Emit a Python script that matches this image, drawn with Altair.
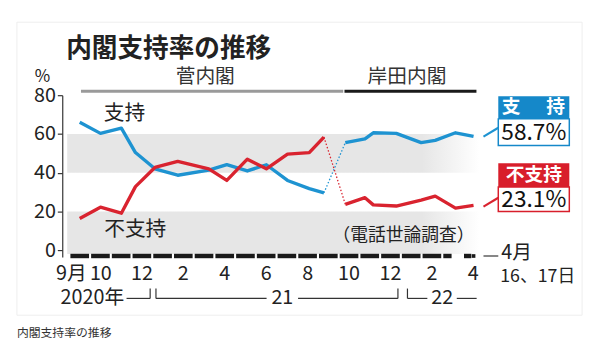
import altair as alt
import pandas as pd

# ---------------- data ----------------
# x = months since Sep 2020 (0 = Sep 2020, 19 = Apr 2022)
suga_m = [0, 1.0, 2.01, 2.69, 3.63, 4.73, 6.23, 7.1, 8.09, 9.01, 10.03, 11.08, 11.79]
suga_support = [66.0, 60.3, 63.0, 50.4, 42.0, 38.7, 41.3, 44.2, 40.9, 44.1, 36.0, 31.8, 29.6]
suga_oppose = [16.4, 22.2, 19.1, 32.8, 42.7, 45.8, 42.0, 36.0, 47.0, 42.0, 49.6, 50.4, 58.4]

kishida_m = [12.82, 13.77, 14.17, 15.28, 16.48, 17.16, 18.14, 19.01]
kishida_support = [55.5, 57.5, 60.6, 60.3, 55.5, 56.7, 60.6, 58.7]
kishida_oppose = [23.7, 27.1, 23.4, 22.8, 25.9, 27.9, 21.7, 23.1]

y_ticks = [0, 20, 40, 60, 80]
band_lo = [40, -2]
band_hi = [60, 20]

month_index = list(range(0, 18))
month_label_m = [-0.4, 1.02, 3, 5, 7, 9, 11, 13, 15, 17, 19]
month_labels = ["9月", "10", "12", "2", "4", "6", "8", "10", "12", "2", "4"]
year_label_m = [0.61, 9.78, 17.5]
year_labels = ["2020年", "21", "22"]

era_names = ["菅内閣", "岸田内閣"]
era_start = [0.06, 12.78]
era_end = [12.72, 19.15]
era_label_m = [6.06, 15.8]
era_colors = ["#9a9a9a", "#1a1a1a"]

BLUE = "#1e93d1"
RED = "#d9232f"
BLUE_BOX = "#1588c9"
RED_BOX = "#d81e2b"
FONT = "Noto Sans CJK JP"
INK = "#222222"

W, H = 422, 164
X = alt.Scale(domain=[-0.605, 19.49], nice=False, zero=False)
Y = alt.Scale(domain=[-3.5, 80], nice=False, zero=False)
Y_AXIS = alt.Axis(values=y_ticks, offset=5, tickSize=5, tickColor="#333",
                  domainColor="#333", domainWidth=1.2, tickWidth=1.2,
                  labelFont=FONT, labelFontSize=20, labelColor=INK,
                  labelPadding=2, grid=False, title=None)

# ---------------- tables ----------------
rows = []
for era, ms, sup, opp in [("suga", suga_m, suga_support, suga_oppose),
                          ("kishida", kishida_m, kishida_support, kishida_oppose)]:
    for m, s, o in zip(ms, sup, opp):
        rows.append({"m": m, "v": s, "series": "支持", "era": era})
        rows.append({"m": m, "v": o, "series": "不支持", "era": era})
lines_df = pd.DataFrame(rows)

gap_df = pd.DataFrame([
    {"m": suga_m[-1], "v": suga_support[-1], "series": "支持"},
    {"m": kishida_m[0], "v": kishida_support[0], "series": "支持"},
    {"m": suga_m[-1], "v": suga_oppose[-1], "series": "不支持"},
    {"m": kishida_m[0], "v": kishida_oppose[0], "series": "不支持"},
])

color = alt.Color("series:N", scale=alt.Scale(domain=["支持", "不支持"], range=[BLUE, RED]), legend=None)

bands = alt.Chart(pd.DataFrame({"lo": band_lo, "hi": band_hi})).mark_rect(
    color=alt.Gradient(gradient="linear",
                       stops=[alt.GradientStop(color="#e6e6e6", offset=0),
                              alt.GradientStop(color="#e6e6e6", offset=0.86),
                              alt.GradientStop(color="#ffffff", offset=1)],
                       x1=0, x2=1, y1=0, y2=0)
).encode(
    x=alt.value(0), x2=alt.value(418),
    y=alt.Y("lo:Q", scale=Y, axis=Y_AXIS),
    y2="hi:Q",
)

lines = alt.Chart(lines_df).mark_line(strokeWidth=3.4, strokeJoin="round").encode(
    x=alt.X("m:Q", scale=X, axis=None),
    y=alt.Y("v:Q", scale=Y, axis=Y_AXIS),
    color=color,
    detail="era:N",
)

gaps = alt.Chart(gap_df).mark_line(strokeWidth=1.3, strokeDash=[1.5, 2]).encode(
    x=alt.X("m:Q", scale=X, axis=None),
    y=alt.Y("v:Q", scale=Y, axis=Y_AXIS),
    color=color,
)

# month dashes along the bottom
dash_df = pd.DataFrame({"a": [k - 0.45 for k in month_index] + [17.55, 18.55],
                        "b": [k + 0.45 for k in month_index] + [17.95, 18.9]})
dashes = alt.Chart(dash_df).mark_rule(strokeWidth=4.5, color="#1a1a1a").encode(
    x=alt.X("a:Q", scale=X, axis=None), x2="b:Q", y=alt.value(163))
end_dot = alt.Chart(pd.DataFrame({"m": [kishida_m[-1]]})).mark_square(size=14, color="#1a1a1a", opacity=1).encode(
    x=alt.X("m:Q", scale=X, axis=None), y=alt.value(163))

month_text = alt.Chart(pd.DataFrame({"m": month_label_m, "t": month_labels})).mark_text(
    font=FONT, fontSize=20, color=INK, baseline="middle").encode(
    x=alt.X("m:Q", scale=X, axis=None), y=alt.value(181), text="t:N")
year_text = alt.Chart(pd.DataFrame({"m": year_label_m, "t": year_labels})).mark_text(
    font=FONT, fontSize=20, color=INK, baseline="middle").encode(
    x=alt.X("m:Q", scale=X, axis=None), y=alt.value(206), text="t:N")

# year brackets
hseg = pd.DataFrame({"a": [2.26, 3.68, 10.54, 15.82, 18.2], "b": [3.4, 9.02, 15.36, 16.78, 19.16]})
vseg = pd.DataFrame({"a": [3.4, 3.68, 15.36, 15.82]})
brk_h = alt.Chart(hseg).mark_rule(strokeWidth=1.2, color="#333").encode(
    x=alt.X("a:Q", scale=X, axis=None), x2="b:Q", y=alt.value(206))
brk_v = alt.Chart(vseg).mark_rule(strokeWidth=1.2, color="#333").encode(
    x=alt.X("a:Q", scale=X, axis=None), y=alt.value(196), y2=alt.value(206))

# era bars and labels
era_df = pd.DataFrame({"a": era_start, "b": era_end, "c": era_colors, "lm": era_label_m, "t": era_names})
era_rules = alt.Chart(era_df).mark_rule(strokeWidth=3).encode(
    x=alt.X("a:Q", scale=X, axis=None), x2="b:Q", y=alt.value(-4),
    color=alt.Color("c:N", scale=None))
era_text = alt.Chart(era_df).mark_text(font=FONT, fontSize=20, color="#333", baseline="middle").encode(
    x=alt.X("lm:Q", scale=X, axis=None), y=alt.value(-18), text="t:N")


def label(text, x, y, size, color=INK, weight="normal", align="center", baseline="middle"):
    return alt.Chart(pd.DataFrame({"t": [text]})).mark_text(
        font=FONT, fontSize=size, color=color, fontWeight=weight, align=align, baseline=baseline
    ).encode(x=alt.value(x), y=alt.value(y), text="t:N")


def box(x1, x2, y1, y2, fill, stroke=None):
    kw = {"fill": fill}
    if stroke:
        kw.update(stroke=stroke, strokeWidth=1.5)
    return alt.Chart(pd.DataFrame({"k": [0]})).mark_rect(**kw).encode(
        x=alt.value(x1), x2=alt.value(x2), y=alt.value(y1), y2=alt.value(y2))


def seg(x1, y1, x2, y2, color, width=1.6):
    return alt.Chart(pd.DataFrame({"k": [0]})).mark_rule(color=color, strokeWidth=width).encode(
        x=alt.value(x1), x2=alt.value(x2), y=alt.value(y1), y2=alt.value(y2))


frame = alt.Chart(pd.DataFrame({"k": [0]})).mark_rect(fill="transparent", stroke="#eeeeee", strokeWidth=1).encode(
    x=alt.value(-51), x2=alt.value(522), y=alt.value(-74), y2=alt.value(223))

annotations = [
    frame,
    label("内閣支持率の推移", -1, -47, 26, weight="bold", align="left"),
    label("%", -25, -18, 17),
    label("支持", 58, 19, 21),
    label("不支持", 69, 137, 21),
    label("（電話世論調査）", 341, 143, 18),
    seg(422, 163, 437, 163, "#333", 1.2),
    label("4月", 440, 160, 20, align="left"),
    label("16、17日", 439, 184, 18, align="left"),
    # legend boxes
    box(437, 509, 1, 24, BLUE_BOX),
    box(437, 509, 24, 51, "#ffffff", BLUE_BOX),
    label("支", 450, 12, 19, color="white", weight="bold"),
    label("持", 495, 12, 19, color="white", weight="bold"),
    label(f"{kishida_support[-1]}%", 473, 38, 23, color="#111"),
    box(437, 509, 69, 93, RED_BOX),
    box(437, 509, 93, 118, "#ffffff", RED_BOX),
    label("不支持", 473, 81, 19, color="white", weight="bold"),
    label(f"{kishida_oppose[-1]}%", 473, 106, 23, color="#111"),
    seg(422, 42, 437, 33, BLUE, 2.2),
    seg(422, 113, 437, 104, RED, 2.2),
    label("内閣支持率の推移", -51, 241, 12, color="#333", align="left"),
]

chart = alt.layer(
    bands, gaps, lines, dashes, end_dot, month_text, year_text, brk_h, brk_v,
    era_rules, era_text, *annotations
).properties(
    width=W, height=H,
    autosize=alt.AutoSizeParams(type="none"),
    padding={"left": 60, "top": 86, "right": 110, "bottom": 100},
    background="white",
).configure_view(stroke=None)

chart.save("out.html", embed_options={"renderer": "svg", "actions": False})
